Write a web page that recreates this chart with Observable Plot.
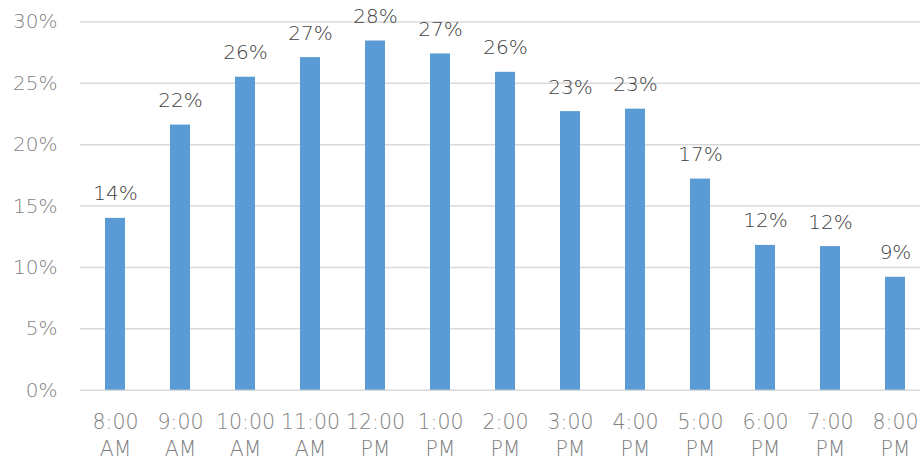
<!DOCTYPE html>
<html>
<head>
<meta charset="utf-8">
<script src="https://cdn.jsdelivr.net/npm/d3@7"></script>
<script src="https://cdn.jsdelivr.net/npm/@observablehq/plot@0.6"></script>
<style>
  html, body { margin: 0; padding: 0; background: #fff; overflow: hidden; }
  #chart { width: 920px; height: 461px; }
</style>
</head>
<body>
<div id="chart"></div>
<script>
const hours = ["8:00 AM", "9:00 AM", "10:00 AM", "11:00 AM", "12:00 PM", "1:00 PM", "2:00 PM",
               "3:00 PM", "4:00 PM", "5:00 PM", "6:00 PM", "7:00 PM", "8:00 PM"];
const shares = [14.0, 21.6, 25.5, 27.1, 28.45, 27.4, 25.9, 22.7, 22.9, 17.2, 11.8, 11.7, 9.2];
const yTicks = [0, 5, 10, 15, 20, 25, 30];

const data = hours.map((h, i) => ({hour: h, value: shares[i]}));
const font = "'DejaVu Sans', sans-serif";

const chart = Plot.plot({
  width: 920,
  height: 461,
  marginLeft: 80,
  marginRight: 0,
  marginTop: 21.5,
  marginBottom: 71.3,
  style: {fontFamily: font, fontWeight: 200, background: "#fff"},
  x: {domain: hours, range: [80, 929.4], paddingInner: 0.69, paddingOuter: 0.345},
  y: {domain: [0, 30]},
  marks: [
    Plot.ruleY(yTicks, {stroke: "#d9d9d9", strokeWidth: 1.5}),
    Plot.barY(data, {x: "hour", y: "value", fill: "#5b9bd5"}),
    Plot.text(data, {
      x: "hour", y: "value",
      text: d => Math.round(d.value) + "%",
      dy: -18, lineAnchor: "bottom",
      fontSize: 20, fill: "#404040", fontWeight: 200
    }),
    Plot.axisY({
      ticks: yTicks, tickSize: 0, tickPadding: 23,
      tickFormat: d => d + "%", fontSize: 20, color: "#7f7f7f", label: null,
      fontWeight: 200
    }),
    Plot.axisX({
      tickSize: 0, tickPadding: 20,
      tickFormat: d => d.replace(" ", "\n"), fontSize: 20.5, color: "#7f7f7f",
      lineHeight: 1.32, label: null, fontWeight: 200
    })
  ]
});
document.getElementById("chart").appendChild(chart);
</script>
</body>
</html>
